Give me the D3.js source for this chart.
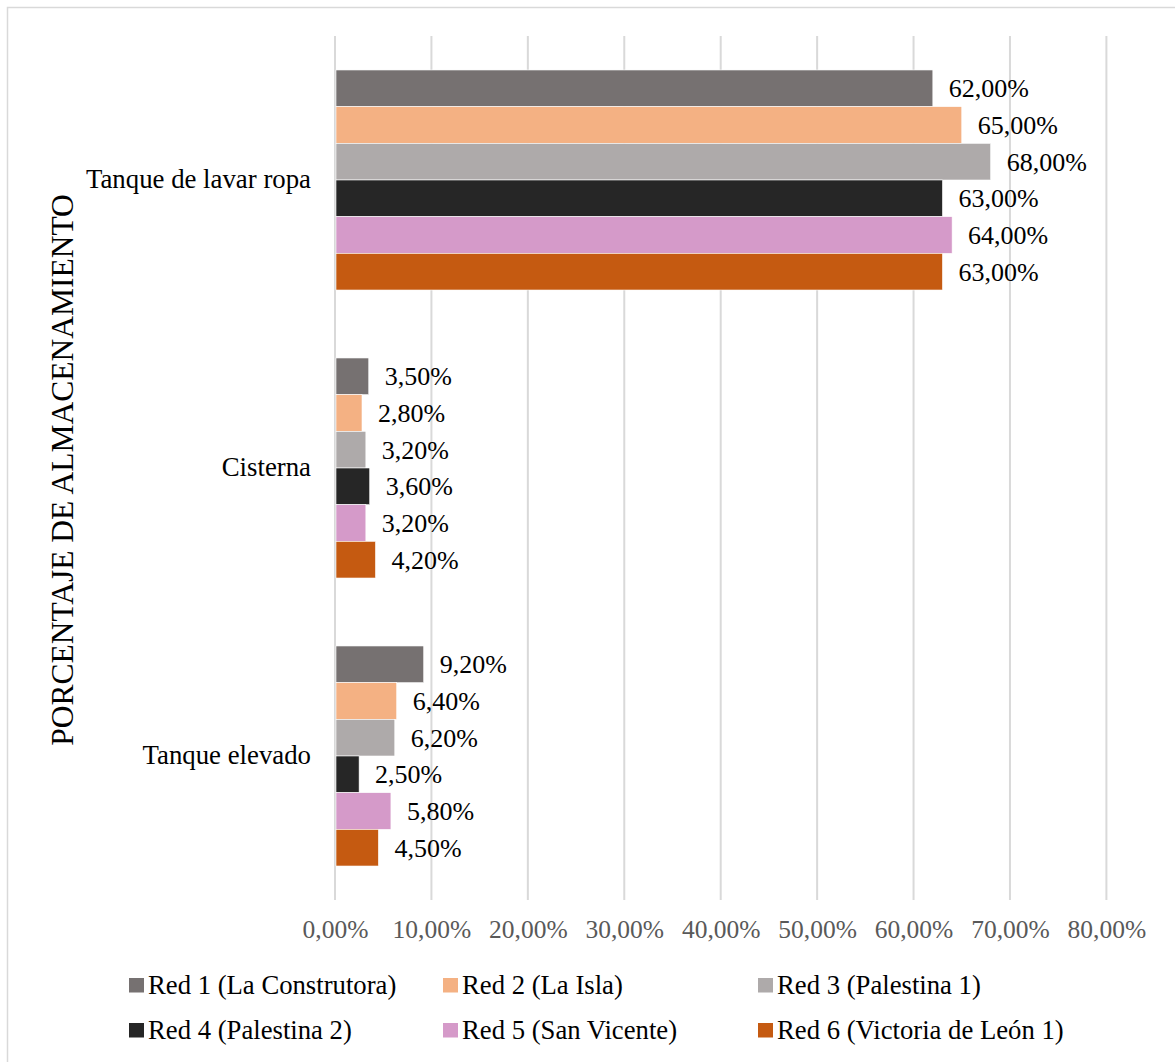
<!DOCTYPE html>
<html>
<head>
<meta charset="utf-8">
<script src="https://cdn.jsdelivr.net/npm/d3@7"></script>
<style>
  html, body { margin: 0; padding: 0; background: #fff; }
  svg { display: block; }
  text { font-family: "Liberation Serif", "Times New Roman", serif; }
</style>
</head>
<body>
<svg id="chart" width="1175" height="1062"></svg>
<script>
// ---- Data ----
const categories = ["Tanque de lavar ropa", "Cisterna", "Tanque elevado"];
const seriesNames = [
  "Red 1 (La Construtora)",
  "Red 2 (La Isla)",
  "Red 3 (Palestina 1)",
  "Red 4 (Palestina 2)",
  "Red 5 (San Vicente)",
  "Red 6 (Victoria de León 1)"
];
const seriesColors = ["#767171", "#f4b183", "#aeaaaa", "#262626", "#d59ac9", "#c55a11"];
// values per series, in category order
const red1 = [0.62, 0.035, 0.092];
const red2 = [0.65, 0.028, 0.064];
const red3 = [0.68, 0.032, 0.062];
const red4 = [0.63, 0.036, 0.025];
const red5 = [0.64, 0.032, 0.058];
const red6 = [0.63, 0.042, 0.045];
const seriesValues = [red1, red2, red3, red4, red5, red6];
const xTicks = [0, 0.1, 0.2, 0.3, 0.4, 0.5, 0.6, 0.7, 0.8];
const yTitle = "PORCENTAJE DE ALMACENAMIENTO";

// ---- Layout ----
const svg = d3.select("#chart");
const plot = { left: 335, right: 1106.4, top: 36, bottom: 900 };
const fmt = v => d3.format(".2f")(v * 100).replace(".", ",") + "%";

// frame
svg.append("rect")
  .attr("x", 7.5).attr("y", 7.5)
  .attr("width", 1300).attr("height", 1200)
  .attr("fill", "none").attr("stroke", "#d9d9d9").attr("stroke-width", 1.5);

const x = d3.scaleLinear().domain([0, 0.8]).range([plot.left, plot.right]);
const y = d3.scaleBand().domain(categories).range([plot.top, plot.bottom])
  .paddingInner(0.236).paddingOuter(0.118);
const ySub = d3.scaleBand().domain(d3.range(seriesNames.length)).range([0, y.bandwidth()]);

// gridlines
svg.append("g").selectAll("line").data(xTicks).join("line")
  .attr("x1", d => x(d)).attr("x2", d => x(d))
  .attr("y1", plot.top).attr("y2", plot.bottom)
  .attr("stroke", "#d9d9d9").attr("stroke-width", 2);

// x axis tick labels
const xAxis = d3.axisBottom(x).tickValues(xTicks).tickFormat(fmt).tickSize(0).tickPadding(0);
const gx = svg.append("g").attr("transform", `translate(0,${plot.bottom})`).call(xAxis);
gx.select(".domain").remove();
gx.selectAll("text")
  .attr("y", 38).attr("dy", 0)
  .attr("fill", "#595959")
  .style("font-size", "25.5px")
  .style("font-family", '"Liberation Serif", "Times New Roman", serif');

// bars
const groups = svg.append("g").selectAll("g")
  .data(categories).join("g")
  .attr("transform", c => `translate(0,${y(c)})`);

groups.each(function(c, ci) {
  const g = d3.select(this);
  seriesValues.forEach((vals, si) => {
    const v = vals[ci];
    g.append("rect")
      .attr("x", x(0) + 1)
      .attr("y", ySub(si))
      .attr("width", x(v) - x(0) - 1)
      .attr("height", ySub.bandwidth())
      .attr("fill", seriesColors[si])
      .attr("stroke", "#ffffff").attr("stroke-width", 0.6);
    g.append("text")
      .attr("x", x(v) + 16)
      .attr("y", ySub(si) + ySub.bandwidth() / 2)
      .attr("dy", "0.35em")
      .attr("fill", "#000")
      .style("font-size", "26px")
      .text(fmt(v));
  });
});

// category labels
svg.append("g").selectAll("text").data(categories).join("text")
  .attr("x", 311)
  .attr("y", c => y(c) + y.bandwidth() / 2)
  .attr("dy", "0.3em")
  .attr("text-anchor", "end")
  .attr("fill", "#000")
  .style("font-size", "26.8px")
  .text(d => d);

// y title
svg.append("text")
  .attr("transform", `translate(73,470) rotate(-90)`)
  .attr("text-anchor", "middle")
  .attr("fill", "#000")
  .style("font-size", "31.5px")
  .text(yTitle);

// legend
const legendCols = [129, 443, 758];
const legendRows = [994, 1039];
const lg = svg.append("g").selectAll("g").data(seriesNames).join("g")
  .attr("transform", (d, i) => `translate(${legendCols[i % 3]},${legendRows[Math.floor(i / 3)]})`);
lg.append("rect")
  .attr("x", 0).attr("y", -16).attr("width", 15).attr("height", 14.5)
  .attr("fill", (d, i) => seriesColors[i]);
lg.append("text")
  .attr("x", 19).attr("y", 0)
  .attr("fill", "#000")
  .style("font-size", "26.7px")
  .text(d => d);
</script>
</body>
</html>
